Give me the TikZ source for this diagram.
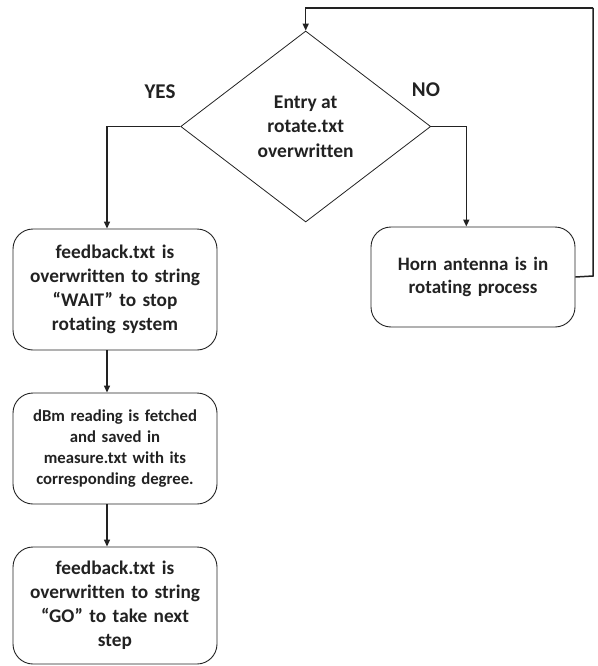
\documentclass[tikz,border=0pt]{standalone}
\usepackage{fontspec}
\setmainfont{Carlito}[Ligatures={NoCommon}]
\usetikzlibrary{shapes.geometric,arrows.meta}
\definecolor{ink}{HTML}{222222}
\tikzset{
  x=1pt,y=1pt,
  proc/.style={draw=ink,line width=0.9pt,rounded corners=20pt,align=center,inner sep=0pt,
    text width=200pt,font=\fontsize{19.3}{24}\selectfont\bfseries,text=ink},
  decide/.style={draw=ink,line width=0.8pt,shape=diamond,shape aspect=1.31,inner sep=0pt,
    minimum width=250pt,minimum height=191pt,align=center,
    font=\fontsize{19.5}{24.5}\selectfont\bfseries,text=ink},
  lbl/.style={font=\fontsize{21}{24}\selectfont\bfseries,text=ink},
  conn/.style={draw=ink,line width=1.5pt,-{Triangle[length=7pt,width=6pt]}},
  plain/.style={draw=ink,line width=1.5pt}
}
\begin{document}
\begin{tikzpicture}
\useasboundingbox (0,0) rectangle (597,-666);
\node[decide] (dec) at (305.7,-126.5) {Entry at\\rotate.txt\\overwritten};
\node[proc,minimum width=204pt,minimum height=121pt] (b1) at (115,-289.5) {feedback.txt is\\overwritten to string\\“WAIT” to stop\\rotating system};
\node[proc,minimum width=204pt,minimum height=111pt,font=\fontsize{16.7}{21}\selectfont\bfseries] (b2) at (115,-448.5) {dBm reading is fetched\\and saved in\\measure.txt with its\\corresponding degree.};
\node[proc,minimum width=204pt,minimum height=117pt] (b3) at (115,-605.5) {feedback.txt is\\overwritten to string\\“GO” to take next\\step};
\node[proc,minimum width=204pt,minimum height=100pt,font=\fontsize{19}{23}\selectfont\bfseries] (horn) at (473,-277) {Horn antenna is in\\rotating process};
\node[lbl] (yes) at (160,-92) {YES};
\node[lbl] (no) at (426,-90) {NO};
\coordinate (r1) at (593,-276);
\coordinate (r2) at (593,-8);
\draw[conn] (dec.west) -| ([xshift=-8pt]b1.north);
\draw[conn] ([xshift=-8pt]b1.south) -- ([xshift=-8pt]b2.north);
\draw[conn] ([xshift=-8pt]b2.south) -- ([xshift=-8pt]b3.north);
\draw[conn] (dec.east) -| ([xshift=-6.7pt]horn.north);
\draw[plain] (horn.east) -- (r1) -- (r2);
\draw[conn] (r2) -| (dec.north);
\end{tikzpicture}
\end{document}
